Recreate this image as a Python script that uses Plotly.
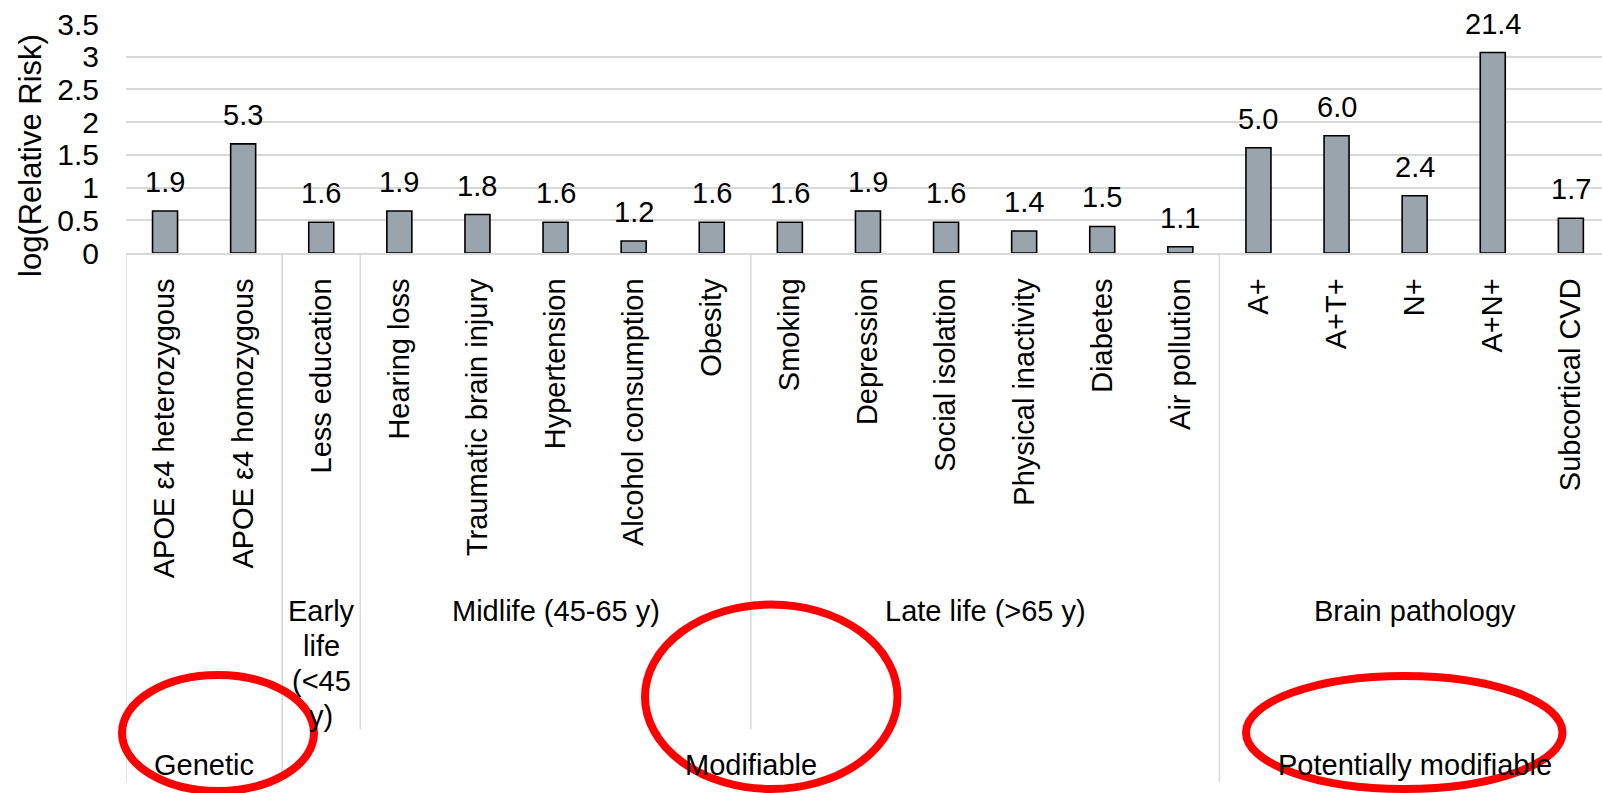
import math
import plotly.graph_objects as go

# Risk factors, in display order
categories = [
    "APOE ε4 heterozygous", "APOE ε4 homozygous", "Less education",
    "Hearing loss", "Traumatic brain injury", "Hypertension",
    "Alcohol consumption", "Obesity", "Smoking", "Depression",
    "Social isolation", "Physical inactivity", "Diabetes", "Air pollution",
    "A+", "A+T+", "N+", "A+N+", "Subcortical CVD",
]
# Relative risk for each factor (bars show its natural log)
relative_risk = [1.9, 5.3, 1.6, 1.9, 1.8, 1.6, 1.2, 1.6, 1.6, 1.9,
                 1.6, 1.4, 1.5, 1.1, 5.0, 6.0, 2.4, 21.4, 1.7]

# Life-stage grouping (second label row); wrapped lines separated by <br>
stage_labels = ["", "Early<br>life<br>(<45<br>y)", "Midlife (45-65 y)",
                "Late life (>65 y)", "Brain pathology"]
stage_sizes = [2, 1, 5, 6, 5]

# Modifiability grouping (third label row)
class_labels = ["Genetic", "Modifiable", "Potentially modifiable"]
class_sizes = [2, 12, 5]

yticks = [0, 0.5, 1, 1.5, 2, 2.5, 3, 3.5]
ytick_text = ["0", "0.5", "1", "1.5", "2", "2.5", "3", "3.5"]

FONT = "Liberation Sans, Arial, sans-serif"
W, H = 1602, 793
ML, MT, MB = 126, 24, 540
PLOT_W = W - ML
PLOT_H = H - MT - MB

def px_x(px):
    return (px - ML) / PLOT_W

def px_y(py):
    return (H - MB - py) / PLOT_H

xpos = list(range(len(categories)))
log_rr = [math.log(v) for v in relative_risk]

fig = go.Figure()
fig.add_trace(go.Bar(
    x=xpos, y=log_rr, width=0.32,
    marker=dict(color="#99A4AD", line=dict(color="#000000", width=1.6)),
    hoverinfo="skip",
))

annotations = []
# value labels above bars
for x, y, v in zip(xpos, log_rr, relative_risk):
    annotations.append(dict(
        x=x, y=y, xref="x", yref="y", text=f"{v:.1f}", showarrow=False,
        yanchor="bottom", yshift=11, font=dict(size=29, color="#000000", family=FONT),
    ))

shapes = []
# group boundaries
def group_bounds(sizes):
    edges, start = [], 0
    for s in sizes:
        edges.append((start - 0.5, start + s - 0.5))
        start += s
    return edges

class_edges = group_bounds(class_sizes)
stage_edges = group_bounds(stage_sizes)
class_cuts = sorted({e for pair in class_edges for e in pair})
stage_cuts = sorted({e for pair in stage_edges for e in pair} - set(class_cuts))

for c in class_cuts:
    shapes.append(dict(type="line", xref="x", yref="paper", x0=c, x1=c,
                       y0=0, y1=px_y(782), line=dict(color="#D9D9D9", width=1.6)))
for c in stage_cuts:
    shapes.append(dict(type="line", xref="x", yref="paper", x0=c, x1=c,
                       y0=0, y1=px_y(729), line=dict(color="#D9D9D9", width=1.6)))

# second row labels, one annotation per wrapped line
for (a, b), lab in zip(stage_edges, stage_labels):
    if not lab:
        continue
    mid = (a + b) / 2
    for k, line in enumerate(lab.split("<br>")):
        annotations.append(dict(x=mid, y=px_y(611 + 35 * k), xref="x", yref="paper",
                                text=line, showarrow=False, yanchor="middle",
                                font=dict(size=29, color="#000000", family=FONT)))

# third row labels
for (a, b), lab in zip(class_edges, class_labels):
    annotations.append(dict(x=(a + b) / 2, y=px_y(765), xref="x", yref="paper", text=lab,
                            showarrow=False, yanchor="middle",
                            font=dict(size=29, color="#000000", family=FONT)))

# y-axis title
annotations.append(dict(x=px_x(30), y=px_y(155), xref="paper", yref="paper",
                        text="log(Relative Risk)", textangle=-90, showarrow=False,
                        xanchor="center", yanchor="middle",
                        font=dict(size=31, color="#000000", family=FONT)))

# red highlight ellipses around the group names
for (x0, y0, x1, y1) in [(122, 675, 314, 791), (645, 604.5, 897.5, 789),
                         (1246, 676, 1562.5, 789)]:
    shapes.append(dict(type="circle", xref="paper", yref="paper",
                       x0=px_x(x0), x1=px_x(x1), y0=px_y(y1), y1=px_y(y0),
                       line=dict(color="#FF0000", width=8), layer="above"))

fig.update_layout(
    width=W, height=H,
    margin=dict(l=ML, r=0, t=MT, b=MB, pad=0),
    paper_bgcolor="#FFFFFF", plot_bgcolor="#FFFFFF",
    showlegend=False,
    font=dict(family=FONT, color="#000000"),
    annotations=annotations, shapes=shapes,
    xaxis=dict(
        range=[-0.5, -0.5 + PLOT_W / 78.1], tickvals=xpos, ticktext=categories,
        tickangle=-90, tickfont=dict(size=29, color="#000000", family=FONT),
        showgrid=False, zeroline=False, showline=True, linecolor="#D9D9D9",
        linewidth=1.6, ticks="", ticklabelstandoff=12, fixedrange=True,
    ),
    yaxis=dict(
        range=[0, 3.5], tickvals=yticks, ticktext=ytick_text,
        tickfont=dict(size=30, color="#000000", family=FONT),
        showgrid=True, gridcolor="#D9D9D9", gridwidth=1.6, zeroline=False,
        showline=False, ticks="", ticklabelstandoff=26, fixedrange=True,
    ),
)

fig.write_html("out.html")
